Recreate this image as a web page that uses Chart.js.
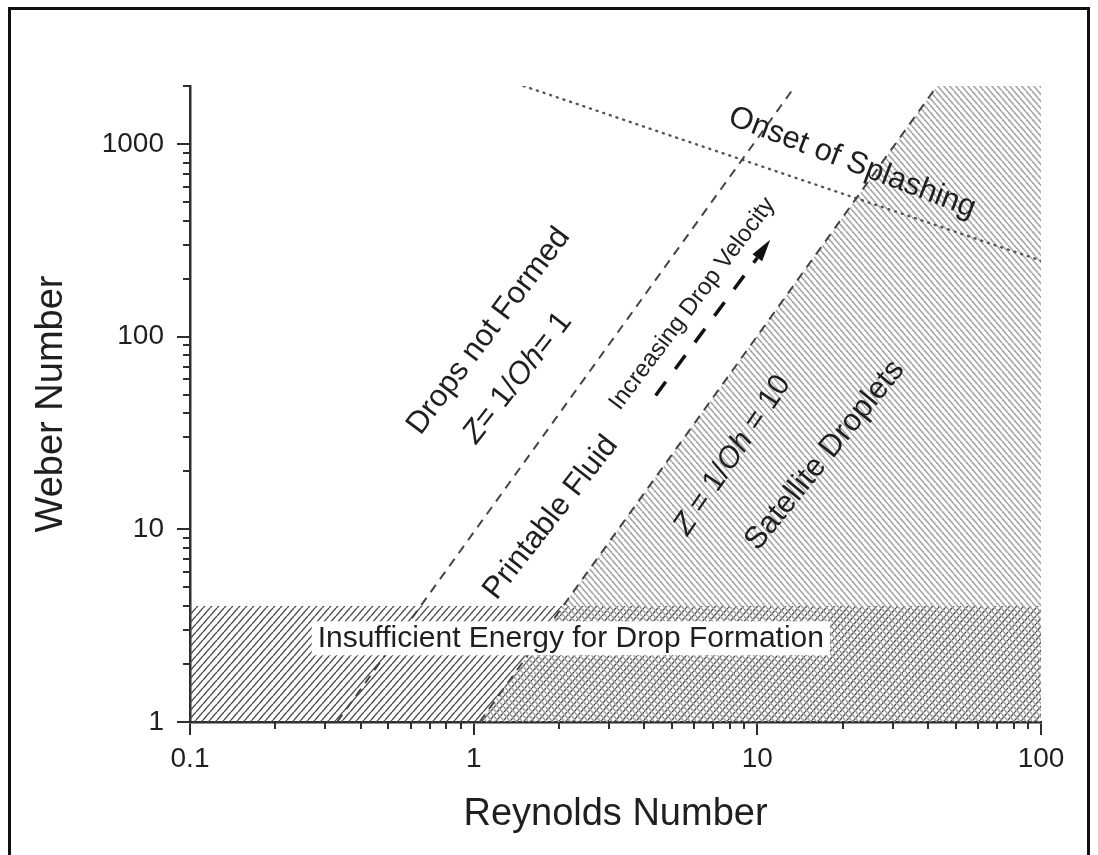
<!DOCTYPE html>
<html>
<head>
<meta charset="utf-8">
<title>Printable fluid map</title>
<script src="https://cdn.jsdelivr.net/npm/chart.js@4.4.1/dist/chart.umd.min.js"></script>
<style>
  html, body { margin:0; padding:0; background:#fff; overflow:hidden; }
  #wrap { position:relative; width:1098px; height:855px; }
  #frame { position:absolute; left:8px; top:7px; width:1076px; height:900px; border:3px solid #111; pointer-events:none; }
</style>
</head>
<body>
<div id="wrap"><canvas id="map"></canvas><div id="frame"></div></div>
<script>
// values (Re on x, We on y, both log)
const xTicks = [0.1, 1, 10, 100];
const xLabels = ['0.1', '1', '10', '100'];
const yTicks = [1, 10, 100, 1000];
const yLabels = ['1', '10', '100', '1000'];

const zOneLine = [{x:0.33, y:1}, {x:13.6, y:2000}];      // Z = 1/Oh = 1
const zTenLine = [{x:1.05, y:1}, {x:43, y:2000}];        // Z = 1/Oh = 10
const splashLine = [{x:1.5, y:2000}, {x:100, y:248}];    // onset of splashing
const lowEnergy = [{x:0.1, y:1}, {x:0.1, y:4}, {x:100, y:4}, {x:100, y:1}];
const satellite = [{x:1.05, y:1}, {x:43, y:2000}, {x:100, y:2000}, {x:100, y:1}];
const velocityArrow = [{x:4.38, y:49.5}, {x:10.0, y:257}];
const arrowTip = {x:11.1, y:318};

// text labels, placed in data coords
const notes = [
  {parts:[['Drops not Formed',0]], x:1.13, y:107, rot:-53, size:31},
  {parts:[['Z',1],['= 1/',0],['Oh',1],['= 1',0]], x:1.43, y:61, rot:-52, size:31},
  {parts:[['Printable Fluid',0]], x:1.87, y:11.5, rot:-52, size:31},
  {parts:[['Increasing Drop Velocity',0]], x:5.9, y:148, rot:-53, size:24},
  {parts:[['Z',1],[' = 1/',0],['Oh',1],[' = 10',0]], x:8.17, y:24.2, rot:-56, size:30},
  {parts:[['Satellite Droplets',0]], x:17.3, y:24.2, rot:-51, size:31},
  {parts:[['Onset of Splashing',0]], x:21.6, y:800, rot:21, size:31},
  {parts:[['Insufficient Energy for Drop Formation',0]], x:2.2, y:2.72, rot:0, size:30, box:true}
];

const FAMILY = '"Liberation Sans", Arial, Helvetica, sans-serif';
const INK = '#1f1f1f';
const AXIS = '#2e2e2e';

function hatch(w, h, color, lw, dir){
  const c = document.createElement('canvas');
  c.width = w; c.height = h;
  const g = c.getContext('2d');
  g.strokeStyle = color; g.lineWidth = lw;
  for (const o of [-w, 0, w]){
    g.beginPath();
    if (dir > 0){ g.moveTo(o, h); g.lineTo(o + w, 0); }
    else { g.moveTo(o, 0); g.lineTo(o + w, h); }
    g.stroke();
  }
  return g.createPattern(c, 'repeat');
}

function richText(ctx, parts, size){
  const fonts = parts.map(p => (p[1] ? 'italic ' : '') + size + 'px ' + FAMILY);
  let total = 0;
  const ws = parts.map((p, i) => { ctx.font = fonts[i]; const w = ctx.measureText(p[0]).width; total += w; return w; });
  let cx = -total / 2;
  parts.forEach((p, i) => { ctx.font = fonts[i]; ctx.fillText(p[0], cx, 0); cx += ws[i]; });
  return total;
}

// minor log ticks, drawn outside the axes
const minorTicks = {
  id: 'minorTicks',
  afterDraw(chart){
    const {ctx, scales:{x, y}} = chart;
    ctx.save();
    ctx.strokeStyle = AXIS; ctx.lineWidth = 2;
    ctx.beginPath();
    for (let e = -1; e < 2; e++) for (let m = 2; m <= 9; m++){
      const px = Math.round(x.getPixelForValue(m * Math.pow(10, e)));
      ctx.moveTo(px, x.top); ctx.lineTo(px, x.top + 7);
    }
    for (let e = 0; e < 4; e++) for (let m = 2; m <= 9; m++){
      const v = m * Math.pow(10, e);
      if (v > y.max) break;
      const py = Math.round(y.getPixelForValue(v));
      ctx.moveTo(y.right - 7, py); ctx.lineTo(y.right, py);
    }
    ctx.stroke();
    ctx.restore();
  }
};

const annotations = {
  id: 'annotations',
  afterDatasetsDraw(chart){
    const {ctx, scales:{x, y}} = chart;
    ctx.save();
    // arrow head
    const a = velocityArrow[velocityArrow.length - 1];
    const bx = x.getPixelForValue(a.x), by = y.getPixelForValue(a.y);
    const tx = x.getPixelForValue(arrowTip.x), ty = y.getPixelForValue(arrowTip.y);
    const ang = Math.atan2(ty - by, tx - bx);
    ctx.translate(tx, ty); ctx.rotate(ang);
    ctx.fillStyle = '#111';
    ctx.beginPath(); ctx.moveTo(0, 0); ctx.lineTo(-22, -6); ctx.lineTo(-22, 6); ctx.closePath(); ctx.fill();
    ctx.setTransform(1, 0, 0, 1, 0, 0);

    ctx.textBaseline = 'middle'; ctx.textAlign = 'left';
    notes.forEach(n => {
      ctx.save();
      ctx.translate(x.getPixelForValue(n.x), y.getPixelForValue(n.y));
      ctx.rotate(n.rot * Math.PI / 180);
      if (n.box){
        let w = 0;
        n.parts.forEach(p => { ctx.font = (p[1] ? 'italic ' : '') + n.size + 'px ' + FAMILY; w += ctx.measureText(p[0]).width; });
        ctx.fillStyle = '#fff';
        ctx.fillRect(-w / 2 - 6, -17, w + 12, 34);
      }
      ctx.fillStyle = INK;
      richText(ctx, n.parts, n.size);
      ctx.restore();
    });
    ctx.restore();
  }
};

const ctx = document.getElementById('map').getContext('2d');
const bandFill = hatch(7, 8, '#4d4d4d', 1.4, 1);
const satFill = hatch(6, 7, '#a6a6a6', 1.6, -1);

new Chart(ctx, {
  type: 'scatter',
  data: {
    datasets: [
      {data: zOneLine, showLine:true, borderColor:'#444', borderWidth:2, borderDash:[9,7], pointRadius:0, order:1},
      {data: zTenLine, showLine:true, borderColor:'#444', borderWidth:2, borderDash:[9,7], pointRadius:0, order:1},
      {data: splashLine, showLine:true, borderColor:'#555', borderWidth:2.4, borderDash:[1,6], borderCapStyle:'round', pointRadius:0, order:1},
      {data: velocityArrow, showLine:true, borderColor:'#111', borderWidth:3.5, borderDash:[17,16], pointRadius:0, order:1},
      {data: satellite, showLine:true, borderWidth:0, borderColor:'rgba(0,0,0,0)', backgroundColor:satFill, fill:'shape', pointRadius:0, order:5},
      {data: lowEnergy, showLine:true, borderWidth:0, borderColor:'rgba(0,0,0,0)', backgroundColor:bandFill, fill:'shape', pointRadius:0, order:6}
    ]
  },
  options: {
    responsive: true,
    maintainAspectRatio: false,
    animation: false,
    events: [],
    layout: {padding: {top:86, right:57, left:0, bottom:0}},
    plugins: {legend:{display:false}, tooltip:{enabled:false}},
    scales: {
      x: {
        type: 'logarithmic', min: 0.1, max: 100,
        afterBuildTicks: s => { s.ticks = xTicks.map(v => ({value:v})); },
        afterFit: s => { s.height = 133; },
        ticks: {autoSkip:false, maxRotation:0, padding:7, color:INK, font:{size:28, family:FAMILY},
          callback: (v, i) => xLabels[i]},
        grid: {drawOnChartArea:false, tickLength:13, color:AXIS, lineWidth:2},
        border: {color:AXIS, width:2.5},
        title: {display:true, text:'Reynolds Number', color:INK, font:{size:38, family:FAMILY}, padding:{top:0, bottom:18}}
      },
      y: {
        type: 'logarithmic', min: 1, max: 2000,
        afterBuildTicks: s => { s.ticks = yTicks.map(v => ({value:v})); },
        afterFit: s => { s.width = 190; },
        ticks: {autoSkip:false, padding:13, color:INK, font:{size:28, family:FAMILY},
          callback: (v, i) => yLabels[i]},
        grid: {drawOnChartArea:false, tickLength:13, color:AXIS, lineWidth:2},
        border: {color:AXIS, width:2.5},
        title: {display:true, text:'Weber Number', color:INK, font:{size:38, family:FAMILY}, padding:{top:29, bottom:0}}
      }
    }
  },
  plugins: [minorTicks, annotations]
});
</script>
</body>
</html>
